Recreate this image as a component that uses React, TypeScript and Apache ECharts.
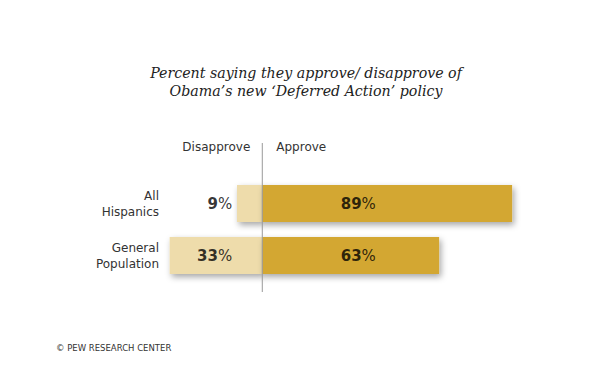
import React, { useEffect, useRef } from "react";
import * as echarts from "echarts";

const categories = ["All\nHispanics", "General\nPopulation"];
const disapprove = [9, 33];
const approve = [89, 63];
const headers = ["Disapprove", "Approve"];
const title = "Percent saying they approve/ disapprove of\nObama\u2019s new \u2018Deferred Action\u2019 policy";
const source = "\u00A9 PEW RESEARCH CENTER";

// layout constants (data-space anchors for value labels)
const DIS_LABEL_X = -10.7;
const APP_LABEL_X = 34.2;

const APPROVE_COLOR = "#D3A731";
const DISAPPROVE_COLOR = "#EEDCAB";

export default function App() {
  const ref = useRef<HTMLDivElement>(null);
  useEffect(() => {
    document.body.style.margin = "0";
    const chart = echarts.init(ref.current!, null, { renderer: "svg" });
    const shadow = {
      shadowColor: "rgba(0,0,0,0.35)",
      shadowBlur: 6,
      shadowOffsetX: 2,
      shadowOffsetY: 3,
    };
    const rich = {
      b: { fontFamily: "DejaVu Sans", fontWeight: "bold", fontSize: 15, color: "#000" },
      n: { fontFamily: "DejaVu Sans", fontWeight: "normal", fontSize: 15, color: "#000" },
    };
    chart.setOption({
      animation: false,
      backgroundColor: "#fff",
      title: {
        text: title,
        left: "center",
        top: 59,
        textStyle: {
          fontFamily: "DejaVu Serif",
          fontStyle: "italic",
          fontWeight: "normal",
          fontSize: 14.2,
          lineHeight: 18,
          color: "#222",
        },
      },
      grid: { left: 150, width: 393, top: 177.5, height: 104 },
      xAxis: {
        type: "value",
        min: -40,
        max: 100,
        show: false,
      },
      yAxis: {
        type: "category",
        data: categories,
        inverse: true,
        axisLine: { show: false, onZero: false },
        axisTick: { show: false },
        splitLine: { show: false },
        axisLabel: {
          margin: -9,
          align: "right",
          fontFamily: "DejaVu Sans",
          fontSize: 12,
          lineHeight: 16,
          color: "#333",
        },
      },
      series: [
        {
          type: "bar",
          name: headers[0],
          data: disapprove.map((v) => -v),
          barWidth: 37,
          barGap: "-100%",
          itemStyle: { color: DISAPPROVE_COLOR, ...shadow },
          silent: true,
        },
        {
          type: "bar",
          name: headers[1],
          data: approve,
          barWidth: 37,
          barGap: "-100%",
          itemStyle: { color: APPROVE_COLOR, ...shadow },
          silent: true,
        },
        {
          type: "scatter",
          symbolSize: 0,
          data: disapprove.map((_, i) => [DIS_LABEL_X, i]),
          silent: true,
          z: 5,
          label: {
            show: true,
            position: "left",
            distance: 0,
            color: "#000",
            formatter: (p: any) => `{b|${disapprove[p.dataIndex]}}{n|%}`,
            rich,
          },
        },
        {
          type: "scatter",
          symbolSize: 0,
          data: approve.map((_, i) => [APP_LABEL_X, i]),
          silent: true,
          z: 5,
          label: {
            show: true,
            position: "inside",
            color: "#000",
            formatter: (p: any) => `{b|${approve[p.dataIndex]}}{n|%}`,
            rich,
          },
        },
      ],
    });
    const zeroX = chart.convertToPixel({ xAxisIndex: 0 }, 0) as number;
    chart.setOption({
      graphic: [
        {
          type: "line",
          shape: { x1: zeroX, y1: 143, x2: zeroX, y2: 292 },
          style: { stroke: "#999", lineWidth: 1 },
          z: 10,
          silent: true,
        },
        {
          type: "text",
          x: zeroX - 12,
          y: 147,
          style: {
            text: headers[0],
            align: "right",
            verticalAlign: "middle",
            fontFamily: "DejaVu Sans",
            fontSize: 12,
            fill: "#333",
          },
        },
        {
          type: "text",
          x: zeroX + 14,
          y: 147,
          style: {
            text: headers[1],
            align: "left",
            verticalAlign: "middle",
            fontFamily: "DejaVu Sans",
            fontSize: 12,
            fill: "#333",
          },
        },
        {
          type: "text",
          x: 56,
          y: 348,
          style: {
            text: source,
            align: "left",
            verticalAlign: "middle",
            fontFamily: "DejaVu Sans",
            fontSize: 8.5,
            fill: "#333",
          },
        },
      ],
    });
    return () => chart.dispose();
  }, []);
  return (
    <div
      ref={ref}
      style={{ position: "absolute", left: 0, top: 0, width: 612, height: 375 }}
    />
  );
}
